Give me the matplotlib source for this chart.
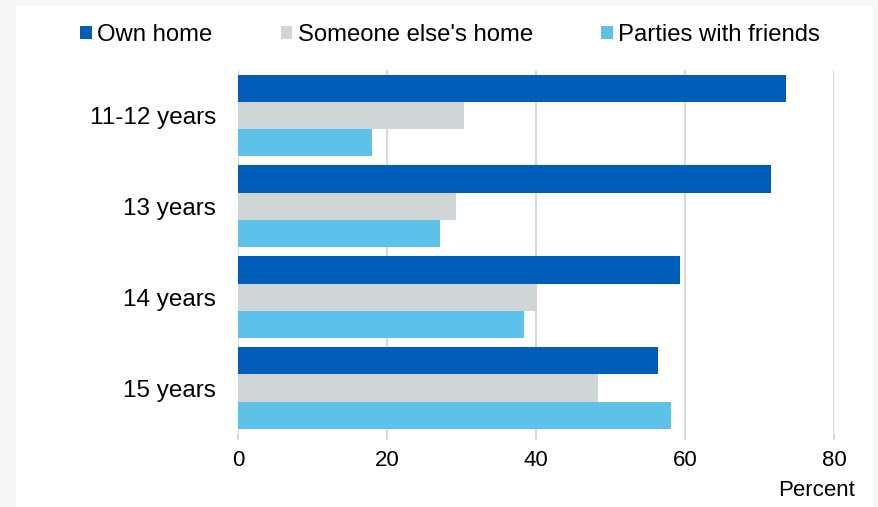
import matplotlib
matplotlib.use("Agg")
import matplotlib.pyplot as plt
from matplotlib.patches import Rectangle
import numpy as np

plt.rcParams['font.family'] = ['Liberation Sans', 'DejaVu Sans']

categories = ["11-12 years", "13 years", "14 years", "15 years"]
series_names = ["Own home", "Someone else's home", "Parties with friends"]
own_home = [73.6, 71.5, 59.3, 56.4]
someone_else = [30.3, 29.3, 40.1, 48.3]
parties = [18.0, 27.1, 38.4, 58.1]
colors = ["#005EB8", "#D0D5D6", "#5DC1EA"]
x_ticks = [0, 20, 40, 60, 80]

fig = plt.figure(figsize=(8.79, 5.07), dpi=100)
fig.patch.set_facecolor("#F7F7F7")
fig.patches.append(Rectangle((16/879, 0), (873-16)/879, 1-6/507,
                             transform=fig.transFigure, facecolor="white",
                             edgecolor="none", zorder=-10))

ax = fig.add_axes([238/879, 1-433.5/507, (834-238)/879, (433.5-70)/507])
ax.set_facecolor("none")

y = np.arange(len(categories))
h = 0.30
for i, (vals, name, c) in enumerate(zip([own_home, someone_else, parties], series_names, colors)):
    ax.barh(y + (i-1)*h, vals, height=h, color=c, label=name, zorder=3)

ax.set_ylim(3.5, -0.5)
ax.set_xlim(0, 80)
ax.set_xticks(x_ticks)
ax.set_yticks(y)
ax.set_yticklabels(categories, fontsize=17.5)
ax.tick_params(axis='x', labelsize=16, length=4, color="#D9D9D9", width=1.5, pad=8)
ax.tick_params(axis='y', length=0, pad=16)
ax.grid(axis='x', color="#D9D9D9", linewidth=1.5, zorder=0)
for s in ax.spines.values():
    s.set_visible(False)

fig.text(855/879, 1-490/507, "Percent", fontsize=16, ha='right', va='center')

ax.legend(loc='center left', bbox_to_anchor=(80/879, 1-35/507), bbox_transform=fig.transFigure,
          ncol=3, frameon=False, fontsize=17.2, handlelength=0.5, handleheight=0.5,
          handletextpad=0.22, columnspacing=2.85, borderaxespad=0, borderpad=0)

fig.savefig("out.png", dpi=100, facecolor=fig.get_facecolor())
